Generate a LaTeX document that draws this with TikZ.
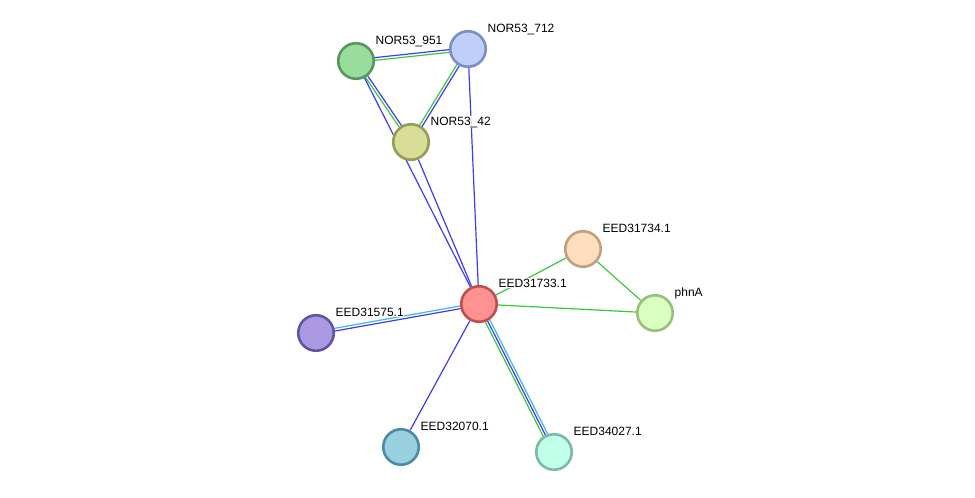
\documentclass[tikz,border=0pt]{standalone}
\usepackage{fontspec}
\setmainfont{Liberation Sans}
\usetikzlibrary{calc}
\pgfdeclarelayer{bg}
\pgfsetlayers{bg,main}
\definecolor{eblue}{HTML}{3C3CF5}
\definecolor{egreen}{HTML}{3CC83C}
\definecolor{ecyan}{HTML}{40B8E8}
\tikzset{
  prot/.style={circle, line width=2.6pt, minimum size=35.5pt, inner sep=0pt},
  lab/.style={anchor=base west, font=\fontsize{12}{14}\selectfont, inner sep=0.5pt, fill=white, fill opacity=0.85, text opacity=1},
  edgeline/.style={line width=1.2pt},
}
\newcommand\pline[4]{\draw[edgeline,#1] ($(#2)!#4!90:(#3)$) -- ($(#3)!#4!-90:(#2)$);}
\begin{document}
\begin{tikzpicture}[x=1pt,y=1pt]
\useasboundingbox (0,0) rectangle (975,-498);
% nodes
\node[prot, fill={rgb,255:red,153;green,221;blue,158}, draw={rgb,255:red,90;green,150;blue,95}] (n951) at (356,-61) {};
\node[prot, fill={rgb,255:red,192;green,206;blue,250}, draw={rgb,255:red,125;green,142;blue,198}] (n712) at (468,-49) {};
\node[prot, fill={rgb,255:red,216;green,222;blue,152}, draw={rgb,255:red,150;green,155;blue,85}] (n42) at (411,-142) {};
\node[prot, fill={rgb,255:red,255;green,145;blue,145}, draw={rgb,255:red,190;green,80;blue,80}] (n33) at (479,-304) {};
\node[prot, fill={rgb,255:red,255;green,222;blue,192}, draw={rgb,255:red,192;green,160;blue,125}] (n34) at (583,-249) {};
\node[prot, fill={rgb,255:red,218;green,255;blue,192}, draw={rgb,255:red,155;green,190;blue,125}] (nphn) at (655,-313) {};
\node[prot, fill={rgb,255:red,170;green,152;blue,225}, draw={rgb,255:red,100;green,85;blue,160}] (n75) at (316,-333) {};
\node[prot, fill={rgb,255:red,152;green,208;blue,224}, draw={rgb,255:red,75;green,140;blue,160}] (n070) at (401,-447) {};
\node[prot, fill={rgb,255:red,192;green,255;blue,232}, draw={rgb,255:red,125;green,185;blue,165}] (n027) at (554,-452) {};
% edges
\begin{pgfonlayer}{bg}
\fill[white] (0,0) rectangle (975,-498);
\pline{eblue}{n951}{n712}{1.35pt}
\pline{egreen}{n951}{n712}{-1.35pt}
\pline{eblue}{n951}{n42}{1.35pt}
\pline{egreen}{n951}{n42}{-1.35pt}
\pline{eblue}{n712}{n42}{1.35pt}
\pline{egreen}{n712}{n42}{-1.35pt}
\draw[edgeline,eblue] (n951) -- (n33);
\draw[edgeline,eblue] (n42) -- (n33);
\draw[edgeline,eblue] (n712) -- (n33);
\draw[edgeline,egreen] (n33) -- (n34);
\draw[edgeline,egreen] (n33) -- (nphn);
\draw[edgeline,egreen] (n34) -- (nphn);
\pline{eblue}{n33}{n75}{1.35pt}
\pline{ecyan}{n33}{n75}{-1.35pt}
\draw[edgeline,eblue] (n33) -- (n070);
\pline{ecyan}{n33}{n027}{2.5pt}
\draw[edgeline,eblue] (n33) -- (n027);
\pline{egreen}{n33}{n027}{-2.5pt}
\end{pgfonlayer}
% labels
\node[lab] (l951) at ($(n951)+(19,17)$) {NOR53\_951};
\node[lab] (l712) at ($(n712)+(19,17)$) {NOR53\_712};
\node[lab] (l42) at ($(n42)+(19,17)$) {NOR53\_42};
\node[lab] (l33) at ($(n33)+(19,17)$) {EED31733.1};
\node[lab] (l34) at ($(n34)+(19,17)$) {EED31734.1};
\node[lab] (lphn) at ($(nphn)+(19,17)$) {phnA};
\node[lab] (l75) at ($(n75)+(19,17)$) {EED31575.1};
\node[lab] (l070) at ($(n070)+(19,17)$) {EED32070.1};
\node[lab] (l027) at ($(n027)+(19,17)$) {EED34027.1};
\end{tikzpicture}
\end{document}
